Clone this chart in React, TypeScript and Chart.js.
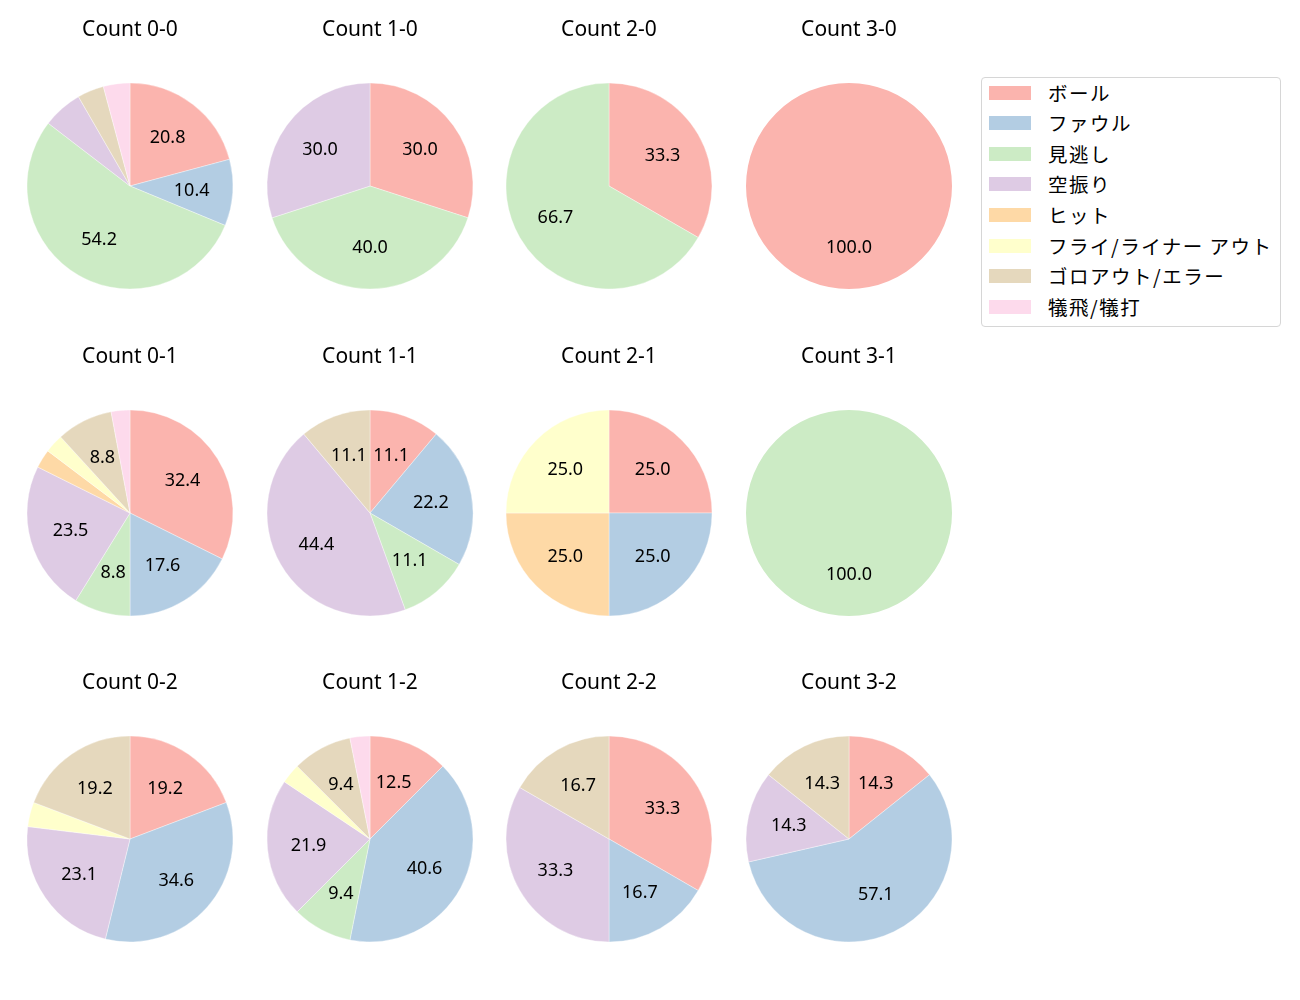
import React, { useEffect, useRef } from "react";
import { Chart, registerables } from "chart.js";

Chart.register(...registerables);

const categories = [
  "ボール",
  "ファウル",
  "見逃し",
  "空振り",
  "ヒット",
  "フライ/ライナー アウト",
  "ゴロアウト/エラー",
  "犠飛/犠打",
];
const colors = ["#fbb4ae", "#b3cde3", "#ccebc5", "#decbe4", "#fed9a6", "#ffffcc", "#e5d8bd", "#fddaec"];

// pitch counts per category (same order as categories)
const count00 = [10, 5, 26, 3, 0, 0, 2, 2];
const count10 = [3, 0, 4, 3, 0, 0, 0, 0];
const count20 = [1, 0, 2, 0, 0, 0, 0, 0];
const count30 = [1, 0, 0, 0, 0, 0, 0, 0];
const count01 = [11, 6, 3, 8, 1, 1, 3, 1];
const count11 = [1, 2, 1, 4, 0, 0, 1, 0];
const count21 = [1, 1, 0, 0, 1, 1, 0, 0];
const count31 = [0, 0, 1, 0, 0, 0, 0, 0];
const count02 = [5, 9, 0, 6, 0, 1, 5, 0];
const count12 = [4, 13, 3, 7, 0, 1, 3, 1];
const count22 = [2, 1, 0, 2, 0, 0, 1, 0];
const count32 = [1, 4, 0, 1, 0, 0, 1, 0];

const titles = [
  "Count 0-0", "Count 1-0", "Count 2-0", "Count 3-0",
  "Count 0-1", "Count 1-1", "Count 2-1", "Count 3-1",
  "Count 0-2", "Count 1-2", "Count 2-2", "Count 3-2",
];
const series = [
  count00, count10, count20, count30,
  count01, count11, count21, count31,
  count02, count12, count22, count32,
];

const LATIN = '"Noto Sans", "Noto Sans CJK JP", sans-serif';
const CJK = '"Noto Sans CJK JP", "Noto Sans", sans-serif';
const colX = [130, 369.5, 609, 849];
const rowY = [186, 512.5, 839];
const CW = 240;
const CH = 290;
const CX = 120;
const CY = 170;
const R = 103;

const pctPlugin = {
  id: "pctLabels",
  afterDatasetsDraw(chart: any) {
    const ctx = chart.ctx;
    const meta = chart.getDatasetMeta(0);
    const data = chart.data.datasets[0].data as number[];
    const total = data.reduce((a, b) => a + b, 0);
    ctx.save();
    ctx.font = `18px ${LATIN}`;
    ctx.fillStyle = "#000";
    ctx.textAlign = "center";
    ctx.textBaseline = "middle";
    meta.data.forEach((arc: any, i: number) => {
      const pct = (data[i] / total) * 100;
      if (pct < 7) return;
      const p = arc.getProps(["x", "y", "startAngle", "endAngle", "outerRadius"], true);
      const mid = (p.startAngle + p.endAngle) / 2;
      const r = p.outerRadius * 0.6;
      ctx.fillText(pct.toFixed(1), p.x + Math.cos(mid) * r, p.y + Math.sin(mid) * r + 0.5);
    });
    ctx.restore();
  },
};

const titlePlugin = {
  id: "cellTitle",
  afterDraw(chart: any) {
    const ctx = chart.ctx;
    const t = chart.options.plugins.cellTitle?.text;
    if (!t) return;
    ctx.save();
    ctx.font = `21px ${LATIN}`;
    ctx.fillStyle = "#000";
    ctx.textAlign = "center";
    ctx.textBaseline = "middle";
    ctx.fillText(t, CX, CY - 155.5);
    ctx.restore();
  },
};

function PieCell({ title, values, left, top }: { title: string; values: number[]; left: number; top: number }) {
  const ref = useRef<HTMLCanvasElement | null>(null);
  useEffect(() => {
    if (!ref.current) return;
    const idx = values.map((v, i) => i).filter((i) => values[i] > 0);
    const chart = new Chart(ref.current, {
      type: "pie",
      data: {
        labels: idx.map((i) => categories[i]),
        datasets: [
          {
            data: idx.map((i) => values[i]),
            backgroundColor: idx.map((i) => colors[i]),
            borderColor: "rgba(255,255,255,0.6)",
            borderWidth: idx.length > 1 ? 0.6 : 0,
          },
        ],
      },
      options: {
        responsive: false,
        animation: false,
        devicePixelRatio: 1,
        radius: R,
        layout: { padding: { top: CY - R, bottom: CH - CY - R, left: CX - R, right: CW - CX - R } },
        plugins: {
          legend: { display: false },
          tooltip: { enabled: false },
          cellTitle: { text: title },
        } as any,
      },
      plugins: [pctPlugin, titlePlugin],
    });
    return () => chart.destroy();
  }, [title, values]);
  return (
    <canvas
      ref={ref}
      width={CW}
      height={CH}
      style={{ position: "absolute", left, top, width: CW, height: CH }}
    />
  );
}

export default function App() {
  return (
    <div style={{ position: "absolute", left: 0, top: 0, width: 1300, height: 1000, background: "#fff", fontFamily: CJK }}>
      {series.map((vals, k) => {
        const c = k % 4;
        const r = Math.floor(k / 4);
        return <PieCell key={k} title={titles[k]} values={vals} left={colX[c] - CX} top={rowY[r] - CY} />;
      })}
      <div
        style={{
          position: "absolute",
          left: 981,
          top: 77,
          width: 298,
          height: 248,
          border: "1px solid #d6d6d6",
          borderRadius: 4,
          background: "#fff",
        }}
      >
        {categories.map((name, i) => (
          <div key={i} style={{ position: "absolute", left: 0, top: i * 30.6, height: 30, width: 298 }}>
            <div
              style={{
                position: "absolute",
                left: 7,
                top: 7.5,
                width: 42,
                height: 14,
                background: colors[i],
              }}
            />
            <div
              style={{
                position: "absolute",
                left: 66,
                top: -0.5,
                height: 30,
                lineHeight: "30px",
                fontSize: 19.5,
                letterSpacing: "1.5px",
                color: "#000",
                whiteSpace: "nowrap",
              }}
            >
              {name}
            </div>
          </div>
        ))}
      </div>
    </div>
  );
}
